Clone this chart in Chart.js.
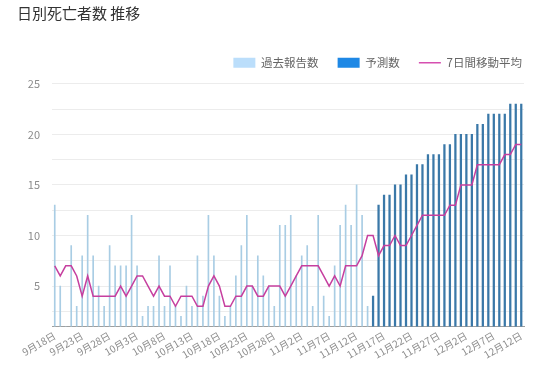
<!DOCTYPE html>
<html><head><meta charset="utf-8">
<script src="https://cdn.jsdelivr.net/npm/chart.js@4/dist/chart.umd.min.js"></script>
<style>html,body{margin:0;padding:0;background:#fff}#wrap{width:550px;height:391px;position:relative}</style>
</head><body><div id="wrap"><canvas id="c" width="550" height="391"></canvas></div>
<script>
const labels = [
"9月18日","9月19日","9月20日","9月21日","9月22日","9月23日","9月24日","9月25日","9月26日","9月27日","9月28日","9月29日","9月30日",
"10月1日","10月2日","10月3日","10月4日","10月5日","10月6日","10月7日","10月8日","10月9日","10月10日","10月11日","10月12日","10月13日","10月14日","10月15日","10月16日","10月17日","10月18日","10月19日","10月20日","10月21日","10月22日","10月23日","10月24日","10月25日","10月26日","10月27日","10月28日","10月29日","10月30日","10月31日",
"11月1日","11月2日","11月3日","11月4日","11月5日","11月6日","11月7日","11月8日","11月9日","11月10日","11月11日","11月12日","11月13日","11月14日","11月15日","11月16日","11月17日","11月18日","11月19日","11月20日","11月21日","11月22日","11月23日","11月24日","11月25日","11月26日","11月27日","11月28日","11月29日","11月30日",
"12月1日","12月2日","12月3日","12月4日","12月5日","12月6日","12月7日","12月8日","12月9日","12月10日","12月11日","12月12日"
];
// 過去報告数 (9/18 - 11/14)
const reported = [13,5,1,9,3,8,12,8,5,3, 9,7,7,7,12,7,2,3,3,8, 3,7,3,2,5,3,8,4,12,8, 4,2,3,6,9,12,5,8,6,5, 3,11,11,12,6,8,9,3,12,4, 2,7,11,13,11,15,12,3];
// 予測数 (11/15 - 12/12)
const forecast = [4,13,14,14,15,15,16,16,17,17,18,18,18,19,19,20,20,20,20,21,21,22,22,22,22,23,23,23];
// 7日間移動平均
const movingAvg = [7,6,7,7,6,4,6,4,4,4, 4,4,5,4,5,6,6,5,4,5, 4,4,3,4,4,4,3,3,5,6, 5,3,3,4,4,5,5,4,4,5, 5,5,4,5,6,7,7,7,7,6, 5,6,5,7,7,7,8,10,10,8, 9,9,10,9,9,10,11,12,12,12, 12,12,13,13,15,15,15,17,17,17, 17,17,18,18,19,19];
const yTicks = [2.5,5,7.5,10,12.5,15,17.5,20,22.5,25];
const seriesNames = ['過去報告数','予測数','7日間移動平均'];

const reportedFull = labels.map((_, i) => i < reported.length ? reported[i] : null);
const forecastFull = labels.map((_, i) => i >= labels.length - forecast.length ? forecast[i - (labels.length - forecast.length)] : null);

const FONT = "'Noto Sans CJK JP', 'Noto Sans', sans-serif";
Chart.defaults.font.family = FONT;

new Chart(document.getElementById('c'), {
  type: 'bar',
  data: {
    labels,
    datasets: [
      {label: seriesNames[0], data: reportedFull, backgroundColor: '#a9cde4', barThickness: 1, grouped: false, order: 2},
      {label: seriesNames[1], data: forecastFull, backgroundColor: '#3a78a8', barThickness: 1.6, grouped: false, order: 1},
      {type: 'line', label: seriesNames[2], data: movingAvg, borderColor: '#c63f9f', borderWidth: 1.5, pointRadius: 0, tension: 0, fill: false, order: 0}
    ]
  },
  options: {
    responsive: false,
    animation: false,
    layout: {padding: {left: 17, right: 9, top: 0, bottom: 27}},
    plugins: {
      tooltip: {enabled: false},
      title: {
        display: true, text: '日別死亡者数 推移', align: 'start', color: '#333',
        font: {size: 15, weight: 'normal', family: FONT}, padding: {top: 4, bottom: 16}
      },
      subtitle: {
        display: true, text: '', position: 'top', weight: 500,
        font: {size: 1, lineHeight: 1}, padding: {top: 4.3, bottom: 0}
      },
      legend: {
        display: true, position: 'top', align: 'end', maxHeight: 41,
        labels: {
          usePointStyle: true, pointStyleWidth: 22, boxHeight: 10, padding: 19,
          color: '#666', font: {size: 11.5, family: FONT},
          generateLabels: () => [
            {text: seriesNames[0], fillStyle: '#bbdefb', strokeStyle: '#bbdefb', lineWidth: 0, pointStyle: 'rect', datasetIndex: 0, fontColor: '#666'},
            {text: seriesNames[1], fillStyle: '#1e88e5', strokeStyle: '#1e88e5', lineWidth: 0, pointStyle: 'rect', datasetIndex: 1, fontColor: '#666'},
            {text: seriesNames[2], fillStyle: '#d64fb0', strokeStyle: '#d64fb0', lineWidth: 1.5, pointStyle: 'line', datasetIndex: 2, fontColor: '#666'}
          ]
        }
      }
    },
    scales: {
      x: {
        offset: true,
        grid: {display: false, drawTicks: false},
        border: {display: true, color: '#9e9e9e', width: 1},
        ticks: {
          autoSkip: false, maxRotation: 30, minRotation: 30, padding: 3,
          color: '#8c8c8c', font: {size: 10, family: FONT},
          callback: function(v, i) { return i % 5 === 0 ? labels[i] : null; }
        },
        afterFit: s => { s.paddingRight = 26; }
      },
      y: {
        min: 1, max: 25,
        afterBuildTicks: s => { s.ticks = yTicks.map(v => ({value: v})); },
        afterFit: s => { s.width = 35; },
        grid: {color: '#ececec', drawTicks: false},
        border: {display: false},
        ticks: {
          padding: 12, color: '#8c8c8c', font: {size: 11, family: FONT},
          callback: v => (v % 5 === 0 ? String(v) : '')
        }
      }
    }
  }
});
</script>
</body></html>
